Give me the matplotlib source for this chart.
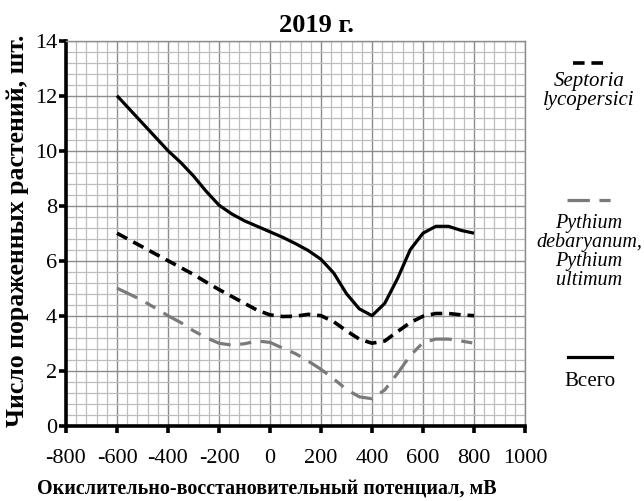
import matplotlib
matplotlib.use("Agg")
import matplotlib.pyplot as plt
from matplotlib.lines import Line2D
from matplotlib.ticker import MultipleLocator

plt.rcParams['font.family'] = ['Liberation Serif', 'DejaVu Serif']
plt.rcParams['axes.unicode_minus'] = False

# Data
potential = [-600, -550, -500, -450, -400, -350, -300, -250, -200, -150, -100, -50,
             0, 50, 100, 150, 200, 250, 300, 350, 400, 450, 500, 550, 600, 650,
             700, 750, 800]
total = [12.0, 11.5, 11.0, 10.5, 10.0, 9.57, 9.08, 8.52, 8.02, 7.7, 7.45, 7.25,
         7.05, 6.85, 6.62, 6.37, 6.05, 5.55, 4.8, 4.25, 4.0, 4.45, 5.35, 6.4, 7.0, 7.25,
         7.25, 7.1, 7.0]
septoria = [7.0, 6.75, 6.5, 6.25, 6.0, 5.75, 5.5, 5.22, 4.95, 4.7, 4.45, 4.2,
            4.03, 3.97, 3.98, 4.05, 4.0, 3.78, 3.45, 3.15, 3.0, 3.08, 3.42, 3.75, 3.98, 4.08,
            4.08, 4.03, 4.0]
pythium = [5.0, 4.78, 4.55, 4.28, 4.0, 3.75, 3.45, 3.2, 3.0, 2.93, 2.98, 3.08,
           3.03, 2.82, 2.62, 2.35, 2.05, 1.7, 1.32, 1.05, 0.98, 1.3, 1.9, 2.55, 3.02, 3.15,
           3.15, 3.08, 3.0]

xticks = [-800, -600, -400, -200, 0, 200, 400, 600, 800, 1000]
yticks = [0, 2, 4, 6, 8, 10, 12, 14]

title = "2019 г."
xlabel = "Окислительно-восстановительный потенциал, мВ"
ylabel = "Число пораженных растений, шт."
leg_septoria = "Septoria\nlycopersici"
leg_pythium = "Pythium\ndebaryanum,\nPythium\nultimum"
leg_total = "Всего"

gray = '#7a7a7a'
fig = plt.figure(figsize=(6.44, 5.01), dpi=100)
ax = fig.add_axes([66/644, 1-425.7/501, (525-66)/644, (425.7-40.7)/501])

ax.set_xlim(-800, 1000)
ax.set_ylim(0, 14)
ax.xaxis.set_minor_locator(MultipleLocator(40))
ax.yaxis.set_minor_locator(MultipleLocator(0.4))
ax.set_xticks(xticks)
ax.set_yticks(yticks)
ax.grid(which='minor', color='#bdbdbd', lw=0.9)
ax.grid(which='major', color='#8c8c8c', lw=1.0)
ax.set_axisbelow(True)

for s in ['top', 'right']:
    ax.spines[s].set_color('#8c8c8c')
    ax.spines[s].set_linewidth(1.0)
for s in ['left', 'bottom']:
    ax.spines[s].set_color('black')
    ax.spines[s].set_linewidth(2.6)

ax.tick_params(which='major', direction='out', length=5, width=2.6, color='black',
               labelsize=16)
ax.tick_params(which='minor', length=0)
ax.tick_params(axis='x', pad=12)
ax.tick_params(axis='y', pad=1.5)

ax.plot(potential, total, color='black', lw=2.3, solid_joinstyle='round',
        solid_capstyle='butt')
ax.plot(potential, septoria, color='black', lw=2.6, dashes=(3.2, 1.9),
        dash_capstyle='butt', dash_joinstyle='round')
ax.plot(potential, pythium, color=gray, lw=2.3, dashes=(7, 3, 3.5, 3),
        dash_capstyle='butt', dash_joinstyle='round')

fig.text(316/644, 1-26/501, title, ha='center', va='center', fontsize=19,
         fontweight='bold')
fig.text(267/644, 1-490/501, xlabel, ha='center', va='center', fontsize=14.4,
         fontweight='bold')
fig.text(18/644, 1-231/501, ylabel, ha='center', va='center', fontsize=18.5,
         fontweight='bold', rotation=90)

# Legend (outside the axes, right side)
def key(x0, x1, y, **kw):
    fig.add_artist(Line2D([x0/644, x1/644], [1-y/501, 1-y/501],
                          transform=fig.transFigure, **kw))

key(573, 608, 63, color='black', lw=2.6, dashes=(3.2, 1.9), dash_capstyle='butt')
fig.text(589/644, 1-91/501, leg_septoria, ha='center', va='center', fontsize=15,
         style='italic', linespacing=0.95)
key(567, 611, 200, color=gray, lw=2.3, dashes=(7, 3, 3.5, 3), dash_capstyle='butt')
fig.text(589/644, 1-252/501, leg_pythium, ha='center', va='center', fontsize=14.5,
         style='italic', linespacing=0.98)
key(568, 612, 357, color='black', lw=2.3)
fig.text(590/644, 1-381/501, leg_total, ha='center', va='center', fontsize=15)

fig.savefig('out.png', dpi=100)
